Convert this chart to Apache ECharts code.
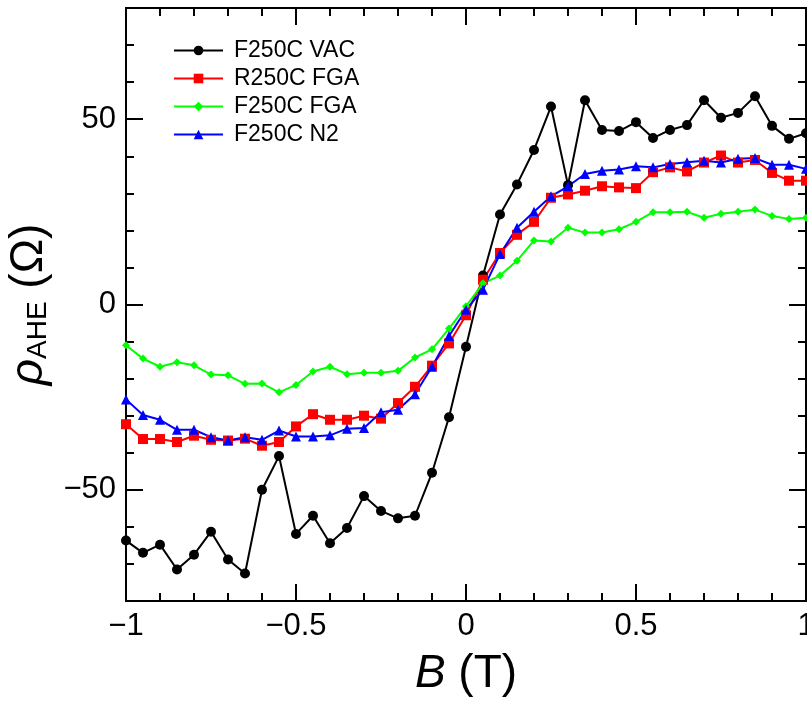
<!DOCTYPE html>
<html>
<head>
<meta charset="utf-8">
<script src="https://cdn.jsdelivr.net/npm/echarts@6/dist/echarts.min.js"></script>
<style>
html,body{margin:0;padding:0;background:#fff;}
#main{width:807px;height:707px;}
</style>
</head>
<body>
<div id="main"></div>
<script>
const B = [-1,-0.95,-0.9,-0.85,-0.8,-0.75,-0.7,-0.65,-0.6,-0.55,-0.5,-0.45,-0.4,-0.35,-0.3,-0.25,-0.2,-0.15,-0.1,-0.05,0,0.05,0.1,0.15,0.2,0.25,0.3,0.35,0.4,0.45,0.5,0.55,0.6,0.65,0.7,0.75,0.8,0.85,0.9,0.95,1];
const vac = [-63.7,-67.0,-64.8,-71.5,-67.5,-61.3,-68.8,-72.6,-50.0,-40.9,-61.9,-57.0,-64.4,-60.3,-51.7,-55.7,-57.7,-57.0,-45.4,-30.4,-11.4,7.8,24.3,32.4,41.7,53.4,32.2,55.1,47.1,46.8,49.2,44.9,47.1,48.4,55.1,50.4,51.7,56.2,48.2,44.7,46.2];
const rfga = [-32.3,-36.3,-36.3,-37.1,-35.4,-36.5,-36.7,-36.2,-38.1,-37.1,-32.9,-29.6,-31.1,-31.1,-30.0,-30.8,-26.6,-22.2,-16.5,-10.5,-2.9,6.7,13.9,18.8,22.3,28.8,29.7,30.7,31.9,31.6,31.4,35.7,37.0,35.9,38.3,40.2,38.3,39.0,35.5,33.4,33.4];
const ffga = [-11.0,-14.6,-16.8,-15.6,-16.4,-18.9,-19.1,-21.4,-21.3,-23.7,-21.7,-18.1,-16.8,-18.8,-18.4,-18.4,-17.9,-14.3,-12.1,-6.5,-0.5,5.7,7.8,11.8,17.3,17.0,20.7,19.4,19.4,20.3,22.3,24.9,24.9,25.0,23.4,24.5,25.0,25.6,23.9,23.1,23.4];
const n2 = [-25.6,-29.8,-31.1,-33.8,-33.8,-35.8,-36.7,-35.8,-36.5,-34.0,-35.6,-35.6,-35.3,-33.5,-33.3,-29.1,-28.4,-24.2,-16.8,-8.5,-1.4,4.0,13.6,20.7,25.0,29.2,31.9,35.2,36.1,36.4,37.3,37.0,37.9,38.4,38.8,38.3,39.3,39.5,37.7,37.7,36.6];
const seriesNames = ['F250C VAC','R250C FGA','F250C FGA','F250C N2'];

const FONT = 'Liberation Sans, Arial, sans-serif';
const fmt = v => v < 0 ? '\u2212' + (-v) : String(v);
const yfmt = v => (Math.abs(v) >= 80 ? '' : fmt(v));
const pairs = arr => B.map((b,i) => [b, arr[i]]);
const axLine = {show:true, onZero:false, lineStyle:{color:'#000', width:2}};
const tickStyle = {color:'#000', width:2};

function xMajor(pos, labels) {
  return {
    type:'value', position:pos, min:-1, max:1, interval:0.5, axisLine:axLine,
    axisTick:{show:true, inside:true, length:17, lineStyle:tickStyle},
    splitLine:{show:false},
    axisLabel:{show:labels, formatter:fmt, color:'#000', fontSize:31, fontFamily:FONT, margin:10},
    name: labels ? '{i|B}{n| (T)}' : '', nameLocation:'middle', nameGap:50,
    nameTextStyle:{rich:{i:{fontSize:46, fontStyle:'italic', fontFamily:FONT, color:'#000'}, n:{fontSize:46, fontFamily:FONT, color:'#000'}}}
  };
}
function xMinor(pos) {
  return {type:'value', position:pos, min:-1, max:1, interval:0.1, axisLine:axLine,
    axisTick:{show:true, inside:true, length:8, lineStyle:tickStyle}, splitLine:{show:false}, axisLabel:{show:false}};
}
function yMinor(pos) {
  return {type:'value', position:pos, min:-80, max:80, interval:10, axisLine:axLine,
    axisTick:{show:true, inside:true, length:8, lineStyle:tickStyle}, splitLine:{show:false}, axisLabel:{show:false}};
}
function yMajor(pos, labels) {
  return {type:'value', position:pos, min:-80, max:80, minInterval:50, maxInterval:50, axisLine:axLine,
    axisTick:{show:true, inside:true, length:17, lineStyle:tickStyle}, splitLine:{show:false},
    axisLabel:{show:labels, formatter:yfmt, color:'#000', fontSize:31, fontFamily:FONT, margin:10, showMinLabel:false, showMaxLabel:false},
    name: labels ? '{r|\u03C1}{s|AHE}{t| (\u03A9)}' : '', nameLocation:'middle', nameGap:66, nameRotate:90,
    nameTextStyle:{rich:{
      r:{fontSize:46, fontStyle:'italic', fontFamily:FONT, color:'#000', lineHeight:46},
      s:{fontSize:28, fontFamily:FONT, color:'#000', lineHeight:20, verticalAlign:'bottom'},
      t:{fontSize:46, fontFamily:FONT, color:'#000', lineHeight:46}
    }}};
}
function ser(name, data, color, symbol, size) {
  return {name, type:'line', data:pairs(data), xAxisIndex:0, yAxisIndex:0, symbol, symbolSize:size, showSymbol:true,
    lineStyle:{color, width:2}, itemStyle:{color, borderWidth:0}, emphasis:{disabled:true}};
}
const chart = echarts.init(document.getElementById('main'), null, {renderer:'canvas'});
chart.setOption({
  animation:false, backgroundColor:'#fff',
  grid:{left:126, right:1, top:8, bottom:106, containLabel:false, outerBoundsMode:'none'},
  xAxis:[xMajor('bottom', true), xMajor('top', false), xMinor('bottom'), xMinor('top')],
  yAxis:[yMajor('left', true), yMinor('left'), yMajor('right', false), yMinor('right')],
  legend:{orient:'vertical', left:173, top:39, padding:0, itemWidth:49, itemHeight:12, itemGap:5,
    textStyle:{fontSize:23, fontFamily:FONT, color:'#000', padding:[0,0,0,6]}, data:seriesNames},
  series:[
    ser(seriesNames[0], vac, '#000000', 'circle', 10),
    ser(seriesNames[1], rfga, '#ff0000', 'rect', 10),
    ser(seriesNames[2], ffga, '#00ff00', 'diamond', 8),
    ser(seriesNames[3], n2, '#0000ff', 'triangle', 10)
  ]
});
</script>
</body>
</html>
